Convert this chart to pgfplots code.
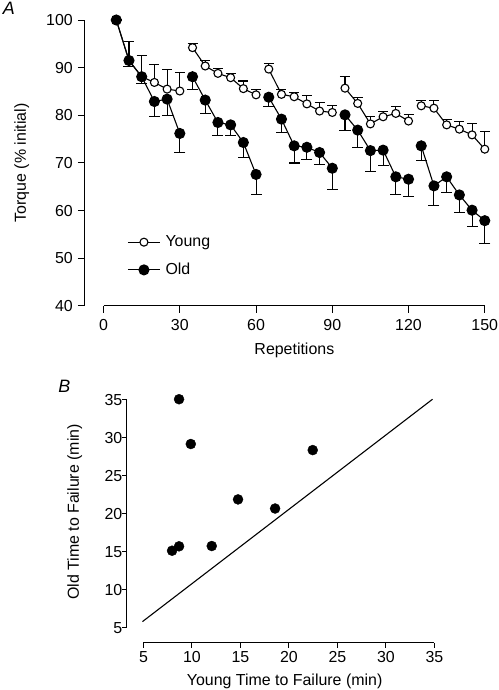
\documentclass[border=0pt]{standalone}
\usepackage{fontspec}
\setmainfont{Liberation Sans}
\usepackage{pgfplots}
\pgfplotsset{compat=1.18}
\begin{document}
\pgfplotsset{
  young/.style={black, line width=1.1bp, mark=*, mark size=4bp, mark options={fill=white, line width=1.1bp},
    error bars/y dir=plus, error bars/y explicit, error bars/error bar style={line width=1.1bp, black},
    error bars/error mark options={rotate=90, mark size=5bp, line width=1.1bp, black}},
  old/.style={black, line width=1.1bp, mark=*, mark size=5bp, mark options={fill=black},
    error bars/y dir=minus, error bars/y explicit, error bars/error bar style={line width=1.1bp, black},
    error bars/error mark options={rotate=90, mark size=5.5bp, line width=1.1bp, black}},
  myaxis/.style={scale only axis, clip=false,
    axis x line*=bottom, axis y line*=left, axis line style={draw=none},
    tick align=outside, major tick length=7bp, tick style={black, line width=1bp},
    tick label style={font=\fontsize{16}{18}\selectfont},
    /pgf/number format/assume math mode=true,
    every axis y label/.style={rotate=90, anchor=center, font=\fontsize{16}{18}\selectfont},
    every axis x label/.style={anchor=center, font=\fontsize{16}{18}\selectfont}},
}
\begin{tikzpicture}
\path[use as bounding box] (0,0) rectangle (496bp,690bp);
% Panel A
\begin{axis}[myaxis, at={(82bp,384bp)}, anchor=south west,
  width=400bp, height=286bp,
  xmin=-7.4, xmax=150, ymin=40, ymax=100,
  xtick={0,30,60,90,120,150}, ytick={40,50,...,100},
  xticklabel style={yshift=-2.5bp}, yticklabel style={xshift=-1.5bp},
  xlabel={Repetitions}, ylabel={Torque (\% initial)},
  xlabel style={at={(axis description cs:0.524,-0.154)}},
  ylabel style={at={(axis description cs:-0.1575,0.5)}},
  legend style={draw=none, fill=none, at={(axis cs:9.3,50.45)}, anchor=west,
    font=\fontsize{16}{18}\selectfont, row sep=11bp, column sep=3bp, inner sep=0pt},
  legend cell align=left,
  legend image code/.code={\draw[mark repeat=2,mark phase=2,#1] plot coordinates {(0bp,0bp)(16bp,0bp)(32bp,0bp)};},
]
\draw[black, line width=1bp] (rel axis cs:0,0) -- (rel axis cs:0,1);
\draw[black, line width=1bp] (axis cs:0,40) -- (axis cs:150,40);
% Young
\addplot[young, forget plot] coordinates {(5,100) +- (0,0) (10,91.5) +- (0,4.0) (15,88.1) +- (0,4.4) (20,86.9) +- (0,3.8) (25,85.5) +- (0,4.2) (30,85.1) +- (0,3.9)};
\addplot[young, forget plot] coordinates {(35,94.2) +- (0,0.9) (40,90.35) +- (0,1.1) (45,88.8) +- (0,1.1) (50,87.9) +- (0,0.9) (55,85.6) +- (0,1.6) (60,84.3) +- (0,1.2)};
\addplot[young, forget plot] coordinates {(65,89.7) +- (0,1.1) (70,84.4) +- (0,1.1) (75,83.9) +- (0,0.9) (80,82.4) +- (0,1.7) (85,80.9) +- (0,1.8) (90,80.6) +- (0,1.4)};
\addplot[young, forget plot] coordinates {(95,85.7) +- (0,2.4) (100,82.5) +- (0,1.3) (105,78.2) +- (0,1.5) (110,79.7) +- (0,1.1) (115,80.4) +- (0,1.4) (120,78.8) +- (0,1.4)};
\addplot[young, forget plot] coordinates {(125,82.0) +- (0,1.1) (130,81.5) +- (0,1.7) (135,78.0) +- (0,1.2) (140,77.1) +- (0,1.7) (145,75.9) +- (0,2.4) (150,72.9) +- (0,3.7)};
% Old
\addplot[old, forget plot] coordinates {(5,100) +- (0,0) (10,91.5) +- (0,1.3) (15,88.1) +- (0,1.5) (20,82.9) +- (0,3.2) (25,83.4) +- (0,3.5) (30,76.2) +- (0,4.0)};
\addplot[old, forget plot] coordinates {(35,88.1) +- (0,2.6) (40,83.2) +- (0,2.9) (45,78.5) +- (0,2.8) (50,78.0) +- (0,2.3) (55,74.3) +- (0,3.2) (60,67.6) +- (0,4.2)};
\addplot[old, forget plot] coordinates {(65,83.8) +- (0,2.0) (70,79.2) +- (0,2.8) (75,73.6) +- (0,3.6) (80,73.3) +- (0,2.5) (85,72.2) +- (0,2.6) (90,68.9) +- (0,4.4)};
\addplot[old, forget plot] coordinates {(95,80.1) +- (0,3.2) (100,76.9) +- (0,3.6) (105,72.6) +- (0,4.4) (110,72.7) +- (0,3.3) (115,67.1) +- (0,3.8) (120,66.6) +- (0,3.7)};
\addplot[old, forget plot] coordinates {(125,73.6) +- (0,3.1) (130,65.2) +- (0,4.2) (135,67.1) +- (0,3.3) (140,63.3) +- (0,3.7) (145,60.1) +- (0,3.5) (150,57.9) +- (0,4.7)};
\addlegendimage{black, line width=1.1bp, mark=*, mark size=4bp, mark options={fill=white}}
\addlegendentry{Young}
\addlegendimage{black, line width=1.1bp, mark=*, mark size=5bp, mark options={fill=black}}
\addlegendentry{Old}
\node[font=\fontsize{18}{20}\selectfont\itshape] at (axis description cs:-0.19,1.04) {A};
\end{axis}
% Panel B
\begin{axis}[myaxis, at={(124bp,47.3bp)}, anchor=south west,
  width=307.7bp, height=242.7bp,
  xmin=3.28, xmax=35, ymin=3.02, ymax=35,
  major tick length=5bp,
  xtick={5,10,...,35}, ytick={5,10,...,35},
  yticklabel style={xshift=4bp},
  xlabel={Young Time to Failure (min)}, ylabel={Old Time to Failure (min)},
  xlabel style={at={(axis description cs:0.513,-0.158)}},
  ylabel style={at={(axis description cs:-0.169,0.5385)}},
]
\draw[black, line width=1bp] (axis cs:3.28,5) -- (axis cs:3.28,35);
\draw[black, line width=1bp] (axis cs:5,3.02) -- (axis cs:35,3.02);
\addplot[black, line width=1.1bp, no marks] coordinates {(4.9,5.8) (34.8,35.1)};
\addplot[only marks, mark=*, mark size=5bp, black] coordinates {
(8.67,35.1) (9.88,29.2) (22.45,28.4) (14.75,21.9) (18.57,20.7) (7.95,15.14) (8.67,15.72) (12.04,15.76)};
\node[font=\fontsize{18}{20}\selectfont\itshape] at (axis description cs:-0.203,1.0556) {B};
\end{axis}
\end{tikzpicture}
\end{document}
